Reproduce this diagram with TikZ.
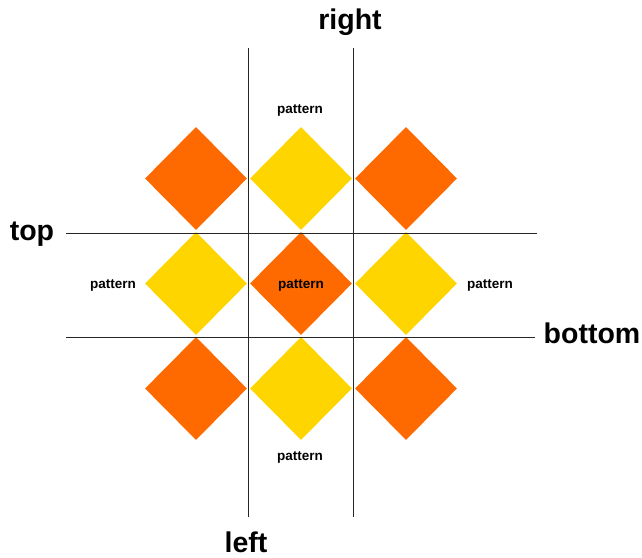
\documentclass[tikz,border=0pt]{standalone}
\usepackage{fontspec}
\setmainfont{Liberation Sans}
\usetikzlibrary{shapes.geometric}
\definecolor{dorange}{RGB}{255,106,0}
\definecolor{dyellow}{RGB}{255,213,0}
\begin{document}
\begin{tikzpicture}[x=1pt,y=-1pt,
  dia/.style={diamond,minimum width=102pt,minimum height=103pt,inner sep=0pt,draw=none},
  org/.style={dia,fill=dorange},
  yel/.style={dia,fill=dyellow},
  side/.style={font=\fontsize{28.5}{30}\selectfont\bfseries},
  pat/.style={font=\fontsize{13.5}{15}\selectfont\bfseries,inner sep=0pt},
  axis/.style={line width=0.9pt,draw=black!85}]
\useasboundingbox (0,0) rectangle (642,557);
% diamonds
\node[org] (d11) at (196,178.5) {};
\node[yel] (d12) at (301,178.5) {};
\node[org] (d13) at (406,178.5) {};
\node[yel] (d21) at (196,283.5) {};
\node[org] (d22) at (301,283.5) {};
\node[yel] (d23) at (406,283.5) {};
\node[org] (d31) at (196,388.5) {};
\node[yel] (d32) at (301,388.5) {};
\node[org] (d33) at (406,388.5) {};
% lines
\coordinate (v1t) at (248.5,48);
\coordinate (v1b) at (248.5,517);
\coordinate (v2t) at (353,48);
\coordinate (v2b) at (353,517);
\coordinate (h1l) at (66,233);
\coordinate (h1r) at (537,233);
\coordinate (h2l) at (66,337);
\coordinate (h2r) at (535,337);
\draw[axis] (v1t) -- (v1b);
\draw[axis] (v2t) -- (v2b);
\draw[axis] (h1l) -- (h1r);
\draw[axis] (h2l) -- (h2r);
% labels
\node[side] (right) at (350,22) {right};
\node[side] (left) at (246,542) {left};
\node[side] (top) at (32,234) {top};
\node[side] (bottom) at (592,333) {bottom};
\node[pat] (p1) at (300,110) {pattern};
\node[pat] (p2) at (113,285) {pattern};
\node[pat] (p3) at (301,285) {pattern};
\node[pat] (p4) at (490,285) {pattern};
\node[pat] (p5) at (300,457) {pattern};
\end{tikzpicture}
\end{document}
